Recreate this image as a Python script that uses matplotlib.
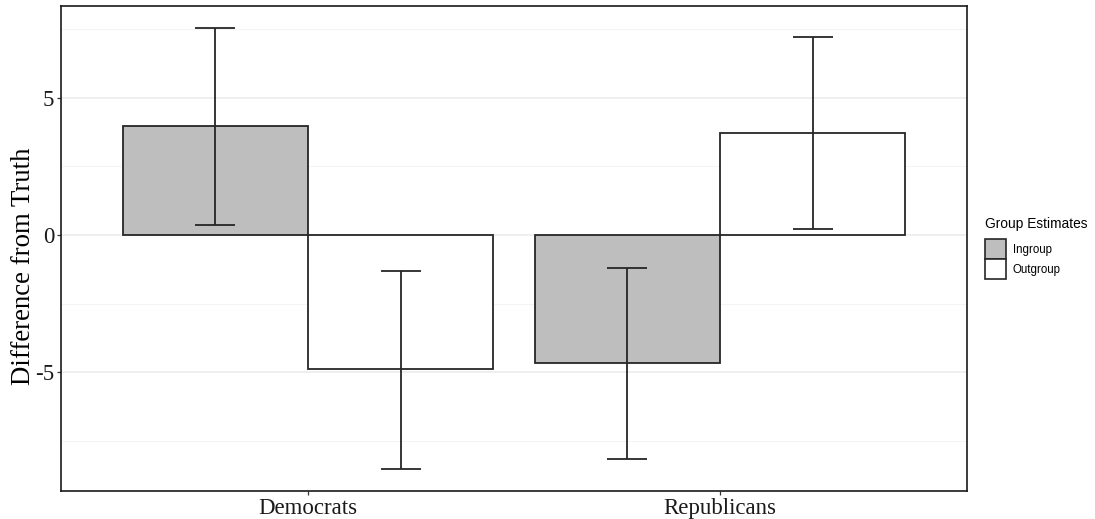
import numpy as np
import matplotlib
matplotlib.use('Agg')
import matplotlib.pyplot as plt
from matplotlib.patches import Patch

parties = ['Democrats', 'Republicans']
groups = ['Ingroup', 'Outgroup']
fills = ['#bebebe', '#ffffff']

# mean difference from truth and 95% interval per group
means = {
    'Ingroup': [3.96, -4.67],
    'Outgroup': [-4.88, 3.72],
}
lower = {
    'Ingroup': [0.38, -8.16],
    'Outgroup': [-8.52, 0.23],
}
upper = {
    'Ingroup': [7.54, -1.19],
    'Outgroup': [-1.32, 7.20],
}

serif = ['Liberation Serif', 'DejaVu Serif']
sans = ['Liberation Sans', 'DejaVu Sans']

fig = plt.figure(figsize=(10.95, 5.19), dpi=100)
ax = fig.add_axes([61 / 1095, 28 / 519, 906 / 1095, 485 / 519])

x = np.arange(1, len(parties) + 1)
width = 0.45
for k, g in enumerate(groups):
    pos = x + (k - 0.5) * width
    ax.bar(pos, means[g], width=width, color=fills[k], edgecolor='#262626',
           linewidth=1.3, zorder=2)
    m = np.array(means[g])
    err = [m - np.array(lower[g]), np.array(upper[g]) - m]
    ax.errorbar(pos, m, yerr=err, fmt='none', ecolor='#262626', elinewidth=1.3,
                capsize=14.5, capthick=1.3, zorder=3)

ax.set_xlim(0.4, 2.6)
ax.set_ylim(-9.32, 8.34)
ax.set_yticks([-5, 0, 5])
ax.set_yticks([-7.5, -2.5, 2.5, 7.5], minor=True)
ax.set_yticklabels(['-5', '0', '5'])
ax.set_xticks(x)
ax.set_xticklabels(parties)
ax.grid(axis='y', which='major', color='#ebebeb', linewidth=1.1, zorder=0)
ax.grid(axis='y', which='minor', color='#f4f4f4', linewidth=0.8, zorder=0)
ax.set_axisbelow(True)
ax.tick_params(axis='both', which='major', length=3, width=0.9, color='#333333',
               labelsize=16.5, labelcolor='#1a1a1a', pad=2)
ax.tick_params(axis='y', which='minor', length=0)
for lab in ax.get_xticklabels() + ax.get_yticklabels():
    lab.set_family(serif)
for sp in ax.spines.values():
    sp.set_color('#1a1a1a')
    sp.set_linewidth(1.2)

ax.set_ylabel('Difference from Truth', fontsize=19.3, family=serif)
ax.yaxis.set_label_coords(-0.028, 0.464)

handles = [Patch(facecolor=fills[k], edgecolor='#262626', linewidth=1.2)
           for k in range(len(groups))]
leg = fig.legend(handles, groups, title='Group Estimates', loc='upper left',
                 bbox_to_anchor=(985 / 1095, 1 - 217 / 519), frameon=False,
                 prop={'family': sans, 'size': 8.3}, handlelength=1.8,
                 handleheight=2.3, handletextpad=0.6, labelspacing=0.0,
                 borderaxespad=0, borderpad=0)
leg.get_title().set_fontfamily(sans)
leg.get_title().set_fontsize(9.9)
leg._legend_box.align = 'left'
leg._legend_box.sep = 6

fig.savefig('out.png', dpi=100, facecolor='white')
